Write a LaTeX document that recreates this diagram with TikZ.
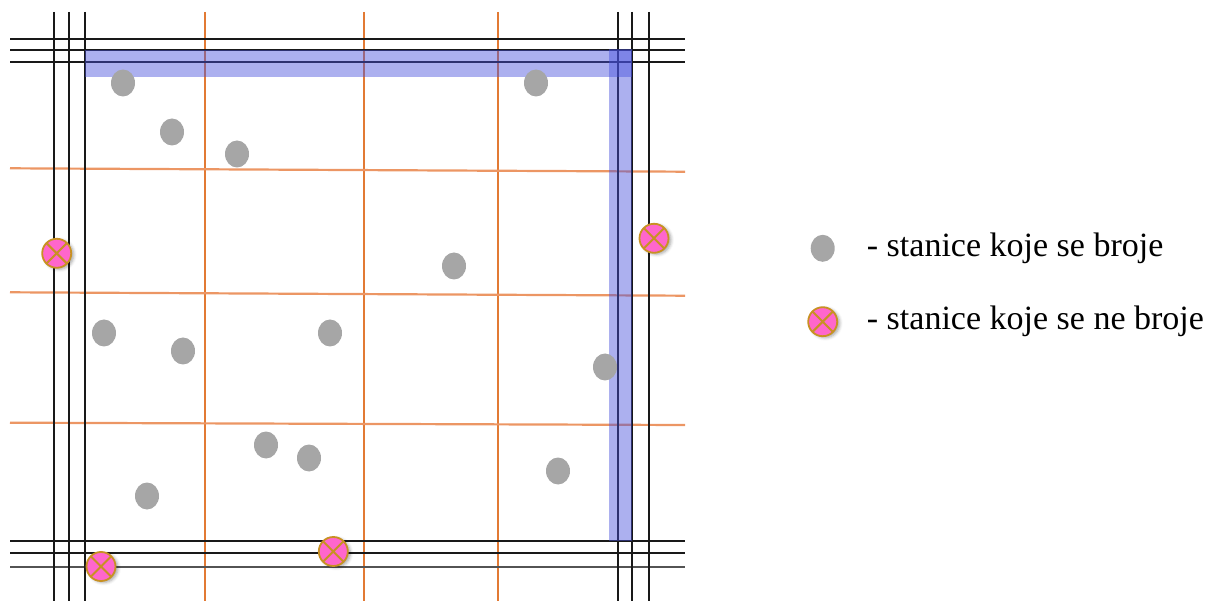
\documentclass[tikz,border=0pt]{standalone}
\usepackage{fontspec}
\setmainfont{Liberation Serif}
\usetikzlibrary{shapes.geometric,shadows.blur}
\definecolor{gridblack}{RGB}{25,25,25}
\definecolor{orangev}{RGB}{226,122,52}
\definecolor{orangeh}{RGB}{236,150,100}
\definecolor{bandblue}{RGB}{70,80,220}
\definecolor{dotgray}{RGB}{166,166,166}
\definecolor{pinkfill}{RGB}{255,102,204}
\definecolor{goldline}{RGB}{200,145,35}
\tikzset{
  blackline/.style={gridblack,line width=2.1pt},
  orangevline/.style={orangev,line width=1.8pt},
  orangehline/.style={orangeh,line width=2.2pt},
  band/.style={fill=bandblue,fill opacity=0.45,draw=none},
  counted/.style={ellipse,fill=dotgray,draw=none,minimum width=24pt,minimum height=27pt,inner sep=0pt},
  notcounted/.style={circle,fill=pinkfill,draw=goldline,line width=1.8pt,minimum size=29pt,inner sep=0pt,
    blur shadow={shadow xshift=2.5pt,shadow yshift=-1.5pt,shadow blur radius=3pt,shadow opacity=35},
    path picture={\draw[goldline,line width=2pt]
      (path picture bounding box.north west) -- (path picture bounding box.south east)
      (path picture bounding box.north east) -- (path picture bounding box.south west);}},
  legendtext/.style={anchor=base west,inner sep=0pt,font=\fontsize{34}{40}\selectfont}
}
\begin{document}
\begin{tikzpicture}[x=1pt,y=-1pt]
\useasboundingbox (0,0) rectangle (1210,601);
% orange grid
\foreach \x in {205,364,498} \draw[orangevline] (\x,12) -- (\x,601);
\draw[orangehline] (10,168.3) -- (685,171.7);
\draw[orangehline] (10,292.3) -- (685,295.7);
\draw[orangehline] (10,422.7) -- (685,425);
% black frame lines
\foreach \y in {39.3,50,61.7,541,553.3} \draw[blackline] (10,\y) -- (685,\y);
\draw[gridblack!75,line width=2.4pt] (10,567) -- (685,567);
\foreach \x in {54,68.7,85,617.7,632,648.7} \draw[blackline] (\x,12) -- (\x,601);
% blue bands
\fill[band] (85,50) rectangle (632,77);
\fill[band] (609,49) rectangle (632,541);
% counted stations
\node[counted] (c1) at (123,83) {};
\node[counted] (c2) at (172,132) {};
\node[counted] (c3) at (237,154) {};
\node[counted] (c4) at (536,83) {};
\node[counted] (c5) at (454,266) {};
\node[counted] (c6) at (104,333) {};
\node[counted] (c7) at (183,351) {};
\node[counted] (c8) at (330,333) {};
\node[counted] (c9) at (605,367) {};
\node[counted] (c10) at (266,445) {};
\node[counted] (c11) at (309,458) {};
\node[counted] (c12) at (147,496) {};
\node[counted] (c13) at (558,471) {};
% not counted stations
\node[notcounted] (n1) at (56.7,253.3) {};
\node[notcounted] (n2) at (654,238.3) {};
\node[notcounted] (n3) at (101,566.5) {};
\node[notcounted] (n4) at (333.3,551.5) {};
% legend
\node[counted] (lg1) at (822.7,248.3) {};
\node[legendtext] (lt1) at (866.7,256.7) {- stanice koje se broje};
\node[notcounted] (lg2) at (822.7,321.7) {};
\node[legendtext] (lt2) at (866.7,330) {- stanice koje se ne broje};
\end{tikzpicture}
\end{document}
